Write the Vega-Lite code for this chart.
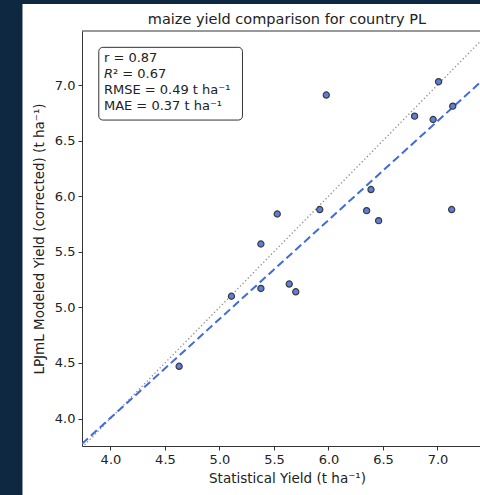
{
  "$schema": "https://vega.github.io/schema/vega-lite/v6.json",
  "width": 398,
  "height": 415,
  "autosize": {"type": "none"},
  "padding": {"left": 82, "top": 31, "right": 0, "bottom": 49},
  "background": "white",
  "config": {
    "view": {"stroke": null},
    "axis": {
      "grid": false,
      "labelFont": "DejaVu Sans",
      "labelFontSize": 13,
      "labelColor": "#222222",
      "titleFont": "DejaVu Sans",
      "titleFontSize": 13.5,
      "titleFontWeight": "normal",
      "titleColor": "#222222",
      "domainColor": "#333333",
      "domainWidth": 1,
      "tickColor": "#333333",
      "tickSize": 4,
      "tickWidth": 1,
      "labelPadding": 3
    }
  },
  "data": {"values": [{}]},
  "datasets": {
    "yields": [
      {"stat": 5.98, "model": 6.91},
      {"stat": 7.01, "model": 7.03},
      {"stat": 6.79, "model": 6.72},
      {"stat": 6.96, "model": 6.69},
      {"stat": 7.14, "model": 6.81},
      {"stat": 6.39, "model": 6.06},
      {"stat": 5.53, "model": 5.84},
      {"stat": 5.92, "model": 5.88},
      {"stat": 5.38, "model": 5.57},
      {"stat": 5.38, "model": 5.17},
      {"stat": 5.11, "model": 5.10},
      {"stat": 5.64, "model": 5.21},
      {"stat": 5.70, "model": 5.14},
      {"stat": 6.35, "model": 5.87},
      {"stat": 6.46, "model": 5.78},
      {"stat": 7.13, "model": 5.88},
      {"stat": 4.63, "model": 4.47}
    ],
    "identity": [
      {"stat": 3.739, "model": 3.739},
      {"stat": 7.6, "model": 7.6}
    ],
    "fit": [
      {"stat": 3.739, "model": 3.773},
      {"stat": 7.6, "model": 7.209}
    ]
  },
  "layer": [
    {
      "mark": {"type": "rect", "fill": "#0e2841", "clip": false},
      "encoding": {
        "x": {"datum": 2.5, "type": "quantitative", "scale": {"domain": [3.739, 7.39], "nice": false, "zero": false}},
        "x2": {"datum": 3.193},
        "y": {"datum": 8.5, "type": "quantitative", "scale": {"domain": [3.753, 7.486], "nice": false, "zero": false}},
        "y2": {"datum": 2.5}
      }
    },
    {
      "mark": {"type": "rect", "fill": "#0e2841", "clip": false},
      "encoding": {
        "x": {"datum": 2.5, "type": "quantitative"},
        "x2": {"datum": 8.0},
        "y": {"datum": 8.5, "type": "quantitative"},
        "y2": {"datum": 7.729}
      }
    },
    {
      "mark": {"type": "text", "align": "center", "baseline": "alphabetic", "font": "DejaVu Sans", "fontSize": 14.5, "color": "#222222", "clip": false},
      "encoding": {
        "x": {"datum": 5.619, "type": "quantitative"},
        "y": {"datum": 7.545, "type": "quantitative"},
        "text": {"value": "maize yield comparison for country PL"}
      }
    },
    {
      "mark": {"type": "rule", "color": "#333333", "strokeWidth": 1},
      "encoding": {"y": {"datum": 7.486, "type": "quantitative"}}
    },
    {
      "data": {"name": "identity"},
      "mark": {"type": "line", "clip": true, "color": "#8c8c8c", "strokeWidth": 1.3, "strokeDash": [1.3, 2.4]},
      "encoding": {
        "x": {"field": "stat", "type": "quantitative"},
        "y": {"field": "model", "type": "quantitative"}
      }
    },
    {
      "data": {"name": "fit"},
      "mark": {"type": "line", "clip": true, "color": "#4169e1", "strokeWidth": 2, "strokeDash": [8, 4]},
      "encoding": {
        "x": {"field": "stat", "type": "quantitative"},
        "y": {"field": "model", "type": "quantitative"}
      }
    },
    {
      "data": {"name": "yields"},
      "mark": {"type": "point", "shape": "circle", "filled": true, "size": 38, "fill": "#5b7fdb", "opacity": 1, "stroke": "#3a3a3a", "strokeWidth": 1.2},
      "encoding": {
        "x": {
          "field": "stat", "type": "quantitative",
          "scale": {"domain": [3.739, 7.39], "nice": false, "zero": false},
          "axis": {"title": "Statistical Yield (t ha⁻¹)", "values": [4, 4.5, 5, 5.5, 6, 6.5, 7], "format": ".1f", "titleX": 205, "titlePadding": 5}
        },
        "y": {
          "field": "model", "type": "quantitative",
          "scale": {"domain": [3.753, 7.486], "nice": false, "zero": false},
          "axis": {"title": "LPJmL Modeled Yield (corrected) (t ha⁻¹)", "values": [4, 4.5, 5, 5.5, 6, 6.5, 7], "format": ".1f", "titlePadding": 8}
        }
      }
    },
    {
      "mark": {"type": "rect", "fill": "white", "stroke": "#333333", "strokeWidth": 1, "cornerRadius": 4},
      "encoding": {
        "x": {"datum": 3.893, "type": "quantitative"},
        "x2": {"datum": 5.211},
        "y": {"datum": 7.339, "type": "quantitative"},
        "y2": {"datum": 6.685}
      }
    },
    {
      "mark": {"type": "text", "align": "left", "baseline": "top", "font": "DejaVu Sans", "fontSize": 13, "lineHeight": 16, "color": "#222222"},
      "encoding": {
        "x": {"datum": 3.94, "type": "quantitative"},
        "y": {"datum": 7.30, "type": "quantitative"},
        "text": {"value": ["r = 0.87", "𝘙² = 0.67", "RMSE = 0.49 t ha⁻¹", "MAE = 0.37 t ha⁻¹"]}
      }
    }
  ]
}
